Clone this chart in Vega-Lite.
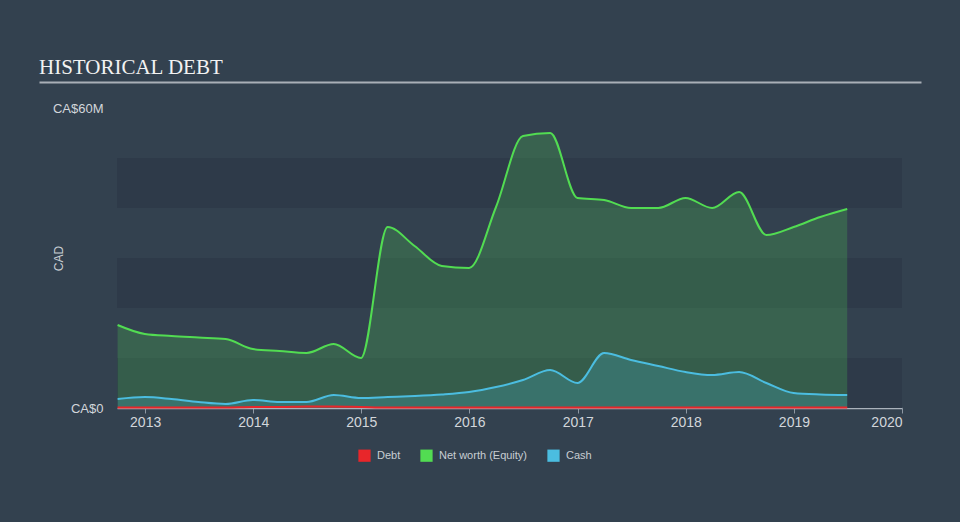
{
  "$schema": "https://vega.github.io/schema/vega-lite/v6.json",
  "width": 785,
  "height": 300,
  "autosize": {"type": "none"},
  "padding": {"left": 117, "top": 108, "right": 58, "bottom": 114},
  "background": "#33414f",
  "title": {"text": "HISTORICAL DEBT", "anchor": "start", "frame": "group", "dx": -78, "offset": -13, "baseline": "alphabetic", "font": "Liberation Serif", "fontSize": 21, "fontWeight": "normal", "color": "#f2f2f2"},
  "config": {
    "view": {"stroke": null},
    "font": "Liberation Sans"
  },
  "datasets": {
    "bands": [{"lo": 0, "hi": 10}, {"lo": 20, "hi": 30}, {"lo": 40, "hi": 50}],
    "fin": [
      {"date": "2012-09-30", "series": "Net worth (Equity)", "value": 16.6},
      {"date": "2012-12-31", "series": "Net worth (Equity)", "value": 14.8},
      {"date": "2013-03-31", "series": "Net worth (Equity)", "value": 14.4},
      {"date": "2013-06-30", "series": "Net worth (Equity)", "value": 14.1},
      {"date": "2013-09-30", "series": "Net worth (Equity)", "value": 13.8},
      {"date": "2013-12-31", "series": "Net worth (Equity)", "value": 11.8},
      {"date": "2014-03-31", "series": "Net worth (Equity)", "value": 11.4},
      {"date": "2014-06-30", "series": "Net worth (Equity)", "value": 11.0},
      {"date": "2014-09-30", "series": "Net worth (Equity)", "value": 12.8},
      {"date": "2014-12-31", "series": "Net worth (Equity)", "value": 10.0},
      {"date": "2015-03-31", "series": "Net worth (Equity)", "value": 36.2},
      {"date": "2015-06-30", "series": "Net worth (Equity)", "value": 32.4},
      {"date": "2015-09-30", "series": "Net worth (Equity)", "value": 28.4},
      {"date": "2015-12-31", "series": "Net worth (Equity)", "value": 28.0},
      {"date": "2016-03-31", "series": "Net worth (Equity)", "value": 40.2},
      {"date": "2016-06-30", "series": "Net worth (Equity)", "value": 54.4},
      {"date": "2016-09-30", "series": "Net worth (Equity)", "value": 55.0},
      {"date": "2016-12-31", "series": "Net worth (Equity)", "value": 42.0},
      {"date": "2017-03-31", "series": "Net worth (Equity)", "value": 41.6},
      {"date": "2017-06-30", "series": "Net worth (Equity)", "value": 40.0},
      {"date": "2017-09-30", "series": "Net worth (Equity)", "value": 40.0},
      {"date": "2017-12-31", "series": "Net worth (Equity)", "value": 42.0},
      {"date": "2018-03-31", "series": "Net worth (Equity)", "value": 40.0},
      {"date": "2018-06-30", "series": "Net worth (Equity)", "value": 43.2},
      {"date": "2018-09-30", "series": "Net worth (Equity)", "value": 34.6},
      {"date": "2018-12-31", "series": "Net worth (Equity)", "value": 36.2},
      {"date": "2019-03-31", "series": "Net worth (Equity)", "value": 38.2},
      {"date": "2019-06-30", "series": "Net worth (Equity)", "value": 39.8},
      {"date": "2012-09-30", "series": "Cash", "value": 1.8},
      {"date": "2012-12-31", "series": "Cash", "value": 2.2},
      {"date": "2013-03-31", "series": "Cash", "value": 1.8},
      {"date": "2013-06-30", "series": "Cash", "value": 1.2},
      {"date": "2013-09-30", "series": "Cash", "value": 0.8},
      {"date": "2013-12-31", "series": "Cash", "value": 1.6},
      {"date": "2014-03-31", "series": "Cash", "value": 1.2},
      {"date": "2014-06-30", "series": "Cash", "value": 1.2},
      {"date": "2014-09-30", "series": "Cash", "value": 2.6},
      {"date": "2014-12-31", "series": "Cash", "value": 2.0},
      {"date": "2015-03-31", "series": "Cash", "value": 2.2},
      {"date": "2015-06-30", "series": "Cash", "value": 2.4},
      {"date": "2015-09-30", "series": "Cash", "value": 2.7},
      {"date": "2015-12-31", "series": "Cash", "value": 3.2},
      {"date": "2016-03-31", "series": "Cash", "value": 4.2},
      {"date": "2016-06-30", "series": "Cash", "value": 5.6},
      {"date": "2016-09-30", "series": "Cash", "value": 7.6},
      {"date": "2016-12-31", "series": "Cash", "value": 5.0},
      {"date": "2017-03-31", "series": "Cash", "value": 11.0},
      {"date": "2017-06-30", "series": "Cash", "value": 9.6},
      {"date": "2017-09-30", "series": "Cash", "value": 8.4},
      {"date": "2017-12-31", "series": "Cash", "value": 7.2},
      {"date": "2018-03-31", "series": "Cash", "value": 6.6},
      {"date": "2018-06-30", "series": "Cash", "value": 7.2},
      {"date": "2018-09-30", "series": "Cash", "value": 5.0},
      {"date": "2018-12-31", "series": "Cash", "value": 3.0},
      {"date": "2019-03-31", "series": "Cash", "value": 2.7},
      {"date": "2019-06-30", "series": "Cash", "value": 2.6},
      {"date": "2012-09-30", "series": "Debt", "value": 0.1},
      {"date": "2012-12-31", "series": "Debt", "value": 0.1},
      {"date": "2013-03-31", "series": "Debt", "value": 0.1},
      {"date": "2013-06-30", "series": "Debt", "value": 0.1},
      {"date": "2013-09-30", "series": "Debt", "value": 0.1},
      {"date": "2013-12-31", "series": "Debt", "value": 0.2},
      {"date": "2014-03-31", "series": "Debt", "value": 0.2},
      {"date": "2014-06-30", "series": "Debt", "value": 0.3},
      {"date": "2014-09-30", "series": "Debt", "value": 0.3},
      {"date": "2014-12-31", "series": "Debt", "value": 0.2},
      {"date": "2015-03-31", "series": "Debt", "value": 0.1},
      {"date": "2015-06-30", "series": "Debt", "value": 0.1},
      {"date": "2015-09-30", "series": "Debt", "value": 0.1},
      {"date": "2015-12-31", "series": "Debt", "value": 0.1},
      {"date": "2016-03-31", "series": "Debt", "value": 0.1},
      {"date": "2016-06-30", "series": "Debt", "value": 0.1},
      {"date": "2016-09-30", "series": "Debt", "value": 0.1},
      {"date": "2016-12-31", "series": "Debt", "value": 0.1},
      {"date": "2017-03-31", "series": "Debt", "value": 0.1},
      {"date": "2017-06-30", "series": "Debt", "value": 0.1},
      {"date": "2017-09-30", "series": "Debt", "value": 0.1},
      {"date": "2017-12-31", "series": "Debt", "value": 0.1},
      {"date": "2018-03-31", "series": "Debt", "value": 0.1},
      {"date": "2018-06-30", "series": "Debt", "value": 0.1},
      {"date": "2018-09-30", "series": "Debt", "value": 0.1},
      {"date": "2018-12-31", "series": "Debt", "value": 0.1},
      {"date": "2019-03-31", "series": "Debt", "value": 0.1},
      {"date": "2019-06-30", "series": "Debt", "value": 0.1}
    ]
  },
  "resolve": {"scale": {"x": "independent"}},
  "layer": [
    {
      "layer": [
        {
          "data": {"name": "bands"},
          "mark": {"type": "rect", "color": "#2e3a49"},
          "encoding": {
            "y": {"field": "lo", "type": "quantitative", "scale": {"domain": [0, 60]},
                  "axis": {"orient": "left", "values": [0, 60], "labelExpr": "datum.value == 0 ? 'CA$0' : 'CA$60M'", "domain": false, "ticks": false, "grid": false, "labelPadding": 14, "labelFlush": false, "labelFontSize": 13, "labelColor": "#d2d6db",
                           "title": "CAD", "titleColor": "#c8cdd3", "titleFontSize": 12, "titleFontWeight": "normal", "titleAngle": -90, "titleX": -59, "titleY": 150, "titleAlign": "center", "titleBaseline": "middle"}},
            "y2": {"field": "hi"},
            "x": {"datum": {"year": 2012, "month": 9, "date": 28}, "type": "temporal",
                  "scale": {"domain": [{"year": 2012, "month": 9, "date": 28}, {"year": 2020, "month": 1, "date": 1}]},
                  "axis": {"orient": "bottom", "title": null, "grid": false, "format": "%Y", "labelFlush": true, "labelOverlap": false,
                           "values": [{"year": 2013, "month": 1, "date": 1}, {"year": 2014, "month": 1, "date": 1}, {"year": 2015, "month": 1, "date": 1}, {"year": 2016, "month": 1, "date": 1}, {"year": 2017, "month": 1, "date": 1}, {"year": 2018, "month": 1, "date": 1}, {"year": 2019, "month": 1, "date": 1}, {"year": 2020, "month": 1, "date": 1}],
                           "labelFontSize": 14, "labelColor": "#d2d6db", "labelPadding": 2, "tickColor": "#8e98a3", "tickSize": 5, "domainColor": "#aab2bb", "domainWidth": 1.5}},
            "x2": {"datum": {"year": 2020, "month": 1, "date": 1}}
          }
        },
        {
          "data": {"name": "fin"},
          "mark": {"type": "area", "interpolate": "monotone", "fillOpacity": 0.22},
          "encoding": {
            "x": {"field": "date", "type": "temporal"},
            "y": {"field": "value", "type": "quantitative", "stack": null},
            "color": {"field": "series", "type": "nominal",
                      "scale": {"domain": ["Debt", "Net worth (Equity)", "Cash"], "range": ["#e8262a", "#52dc52", "#4bbde0"]},
                      "legend": {"orient": "none", "legendX": 241, "legendY": 341, "direction": "horizontal", "title": null, "symbolType": "square", "symbolSize": 150, "symbolOpacity": 1, "symbolStrokeWidth": 0, "labelFontSize": 11, "labelColor": "#c8cdd3", "columnPadding": 19, "labelOffset": 6}}
          }
        },
        {
          "data": {"name": "fin"},
          "mark": {"type": "line", "interpolate": "monotone", "strokeWidth": 2},
          "encoding": {
            "x": {"field": "date", "type": "temporal"},
            "y": {"field": "value", "type": "quantitative"},
            "color": {"field": "series", "type": "nominal"}
          }
        }
      ]
    },
    {
      "data": {"name": "bands"},
      "mark": {"type": "point", "opacity": 0},
      "encoding": {
        "x": {"datum": 0, "type": "quantitative", "scale": {"domain": [0, 1], "range": [-78, 804]},
              "axis": {"orient": "top", "offset": 26, "labels": false, "ticks": false, "grid": false, "title": null, "domainColor": "#a9afb7", "domainWidth": 2}}
      }
    }
  ]
}
